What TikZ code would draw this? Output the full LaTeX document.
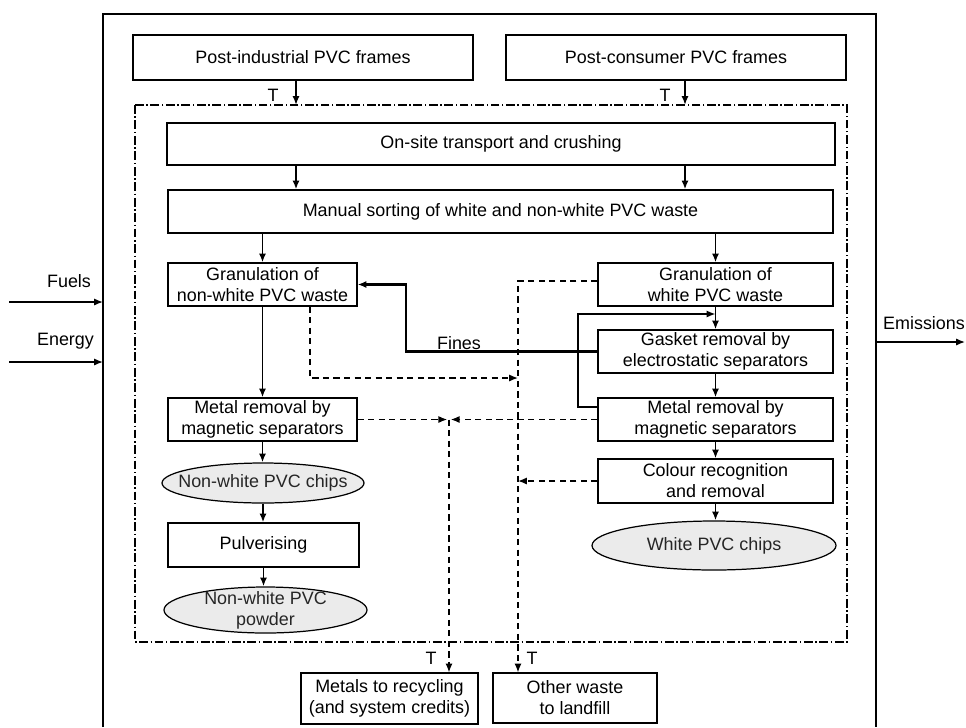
\documentclass[tikz,border=0pt]{standalone}
\usepackage{fontspec}
\setmainfont{Liberation Sans}
\usetikzlibrary{arrows.meta,shapes.geometric,calc}

\tikzset{
  sz/.style 2 args={minimum width=#1*0.02cm,minimum height=#2*0.02cm},
  box/.style={draw,line width=0.7pt,align=center,inner sep=1pt},
  prod/.style={ellipse,draw,line width=0.7pt,fill=black!8,text=black!85,align=center,inner sep=-20pt},
  arr/.style={-{Latex[length=5pt,width=4pt]},line width=1.1pt},
  dasharr/.style={-{Latex[length=5pt,width=4pt]},line width=0.8pt,dash pattern=on 3.5pt off 2.5pt},
  bound/.style={line width=0.6pt,dash pattern=on 5pt off 1.5pt on 0.8pt off 1.5pt}
}

\begin{document}
\begin{tikzpicture}[x=0.02cm,y=-0.02cm,font=\fontsize{10.2}{12}\selectfont]

\useasboundingbox (0,0) rectangle (966,727);

% System boundary and plant boundary
\coordinate (sysL) at (103,14);
\coordinate (sysR) at (876,727);
\draw[line width=0.8pt] (sysL |- sysR) |- (sysR |- sysL) -- (sysR);
\draw[bound] (135,105) rectangle (847,642);

% Inputs
\node[box,sz={340}{45}] (pind) at (303,57.5) {Post-industrial PVC frames};
\node[box,sz={340}{45}] (pcon) at (676,57.5) {Post-consumer PVC frames};
\node[box,sz={668}{42}] (crush) at (501,144) {On-site transport and crushing};
\node[box,sz={665}{43}] (sort) at (500.5,211.5) {Manual sorting of white and non-white PVC waste};

% Non-white line
\node[box,sz={189}{43}] (gnw) at (262.5,284.5) {Granulation of\\non-white PVC waste};
\node[box,sz={189}{43}] (mnw) at (262.5,419.5) {Metal removal by\\magnetic separators};
\node[prod,sz={202}{40}] (nwchips) at (263,483) {Non-white PVC chips};
\node[box,sz={191}{44}] (pulv) at (263.5,545) {Pulverising};
\node[prod,sz={203}{46}] (powder) at (265.5,610) {Non-white PVC\\powder};

% White line
\node[box,sz={235}{43}] (gw) at (715.5,284.5) {Granulation of\\white PVC waste};
\node[box,sz={235}{43}] (gasket) at (715.5,351.5) {Gasket removal by\\electrostatic separators};
\node[box,sz={235}{43}] (mw) at (715.5,419.5) {Metal removal by\\magnetic separators};
\node[box,sz={235}{44}] (colour) at (715.5,481) {Colour recognition\\and removal};
\node[prod,sz={244}{49}] (wchips) at (714,545.5) {White PVC chips};

% Outputs
\node[box,sz={177}{51}] (metals) at (389.5,698.5) {Metals to recycling\\(and system credits)};
\node[box,sz={164}{50}] (landfill) at (575,698) {Other waste\\to landfill};

% Flow labels
\node (fuels) at (69,281) {Fuels};
\node (energy) at (65.5,341) {Energy};
\node (emis) at (924,323) {Emissions};
\node (fines) at (459,343) {Fines};
\foreach \n/\x/\y in {t1/273/95,t2/665/95,t3/431/658,t4/532/658}
    \node (\n) at (\x,\y) {T};

% Main flows
\coordinate (in1) at (296,105);
\coordinate (in2) at (685,105);
\draw[arr] (pind.south -| in1) -- (in1);
\draw[arr] (pcon.south -| in2) -- (in2);
\foreach \c in {in1,in2}
    \draw[arr] (crush.south -| \c) -- (sort.north -| \c);
\draw[arr] (sort.south -| gnw.north) -- (gnw.north);
\draw[arr] (sort.south -| gw.north) -- (gw.north);
\foreach \a/\b in {gnw/mnw,mnw/nwchips,nwchips/pulv,pulv/powder,gw/gasket,gasket/mw,mw/colour,colour/wchips}
    \draw[arr] (\a.south) -- (\a.south |- \b.north);

% Fines back to granulation, and loop back to gasket removal
\coordinate (fx) at (406,0);
\draw[arr,line width=1.4pt] (gasket.west) -| (fx |- gnw.east) -- (gnw.east);
\coordinate (loop) at (578,314);
\draw[arr,line width=0.9pt] ($(mw.west)+(0,-12.5)$) -| (loop) -- (loop -| gw.south);

% Waste streams
\coordinate (wx) at (518,0);
\coordinate (mx) at (449,0);
\coordinate (d1) at (310,378);
\draw[dasharr] (gnw.south -| d1) |- (wx |- d1);
\draw[dasharr] ($(gw.west)+(0,-3.5)$) -| (landfill.north -| wx);
\draw[dasharr] (colour.west) -- (wx |- colour.west);
\draw[dasharr,shorten >=1pt] (mnw.east) -- (mx |- mnw.east);
\draw[dasharr,shorten >=1pt] (mw.west) -- (mx |- mw.west);
\draw[dasharr] (mx |- mw.west) -- (metals.north -| mx);

% Fuels, energy and emissions
\coordinate (fuelsin) at (9,302);
\coordinate (energyin) at (9,362);
\coordinate (emisout) at (965,342);
\draw[arr,line width=0.8pt] (fuelsin) -- (fuelsin -| sysL);
\draw[arr,line width=0.8pt] (energyin) -- (energyin -| sysL);
\draw[arr,line width=0.8pt] (emisout -| sysR) -- (emisout);

\end{tikzpicture}
\end{document}
